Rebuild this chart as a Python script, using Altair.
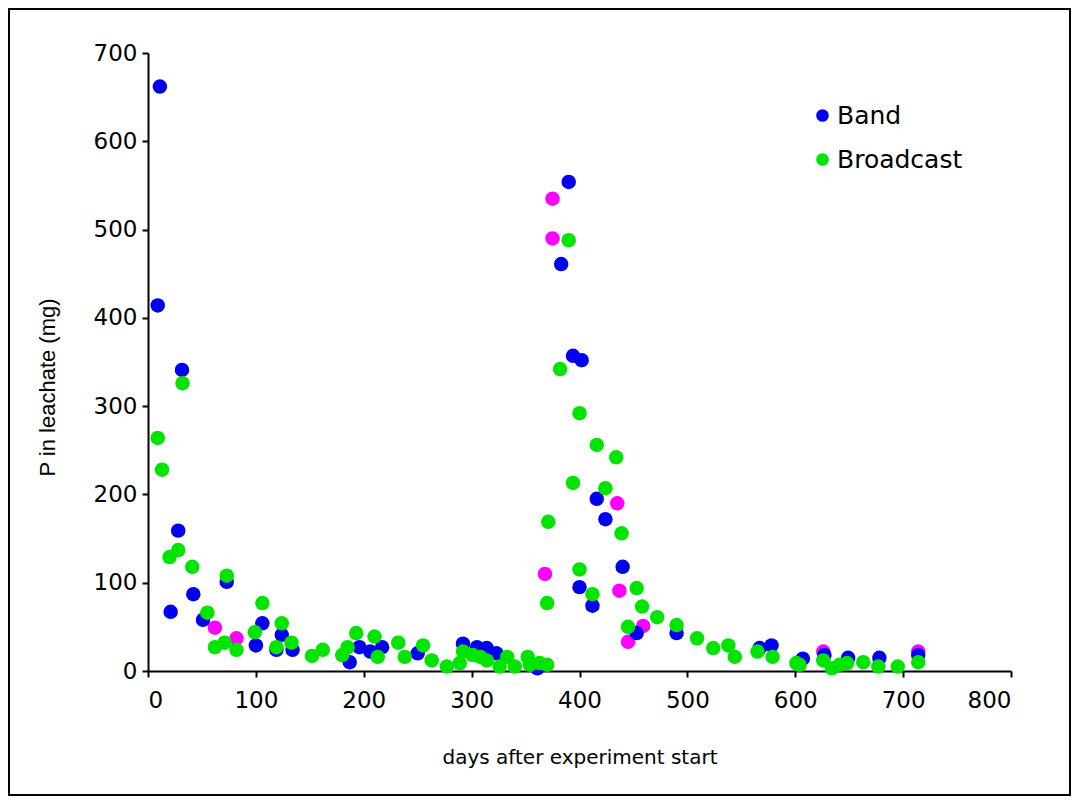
import altair as alt
import pandas as pd

band_day = [11, 9, 31.5, 28, 21, 42, 73, 51, 106, 100, 124, 119, 134, 187, 196, 206, 217,
            250, 292, 305, 314, 323, 361, 390, 383, 394, 402, 416, 424, 440, 400, 412, 453,
            490, 567, 578, 607, 627, 649, 678, 714]
band_p = [662, 414, 341, 159, 67, 87, 101, 58, 54, 29, 41, 24, 24, 10, 27, 22, 27,
          20, 31, 27, 26, 20, 3, 554, 461, 357, 352, 195, 172, 118, 95, 74, 43,
          43, 26, 29, 14, 18, 15, 15, 18]

broad_day = [9, 13, 32, 20, 28, 41, 73, 55, 62, 71, 82, 106, 99, 124, 119, 133, 152, 162,
             180, 185, 193, 210, 213, 232, 238, 255, 263, 277, 292, 289, 301, 308, 314,
             326, 333, 340, 352, 354, 363, 370, 370, 371, 382, 390, 400, 394, 416, 434,
             424, 439, 400, 412, 453, 458, 445, 472, 490, 509, 524, 538, 544, 565, 579,
             601, 604, 626, 634, 641, 648, 663, 677, 695, 714]
broad_p = [264, 228, 326, 129, 137, 118, 108, 66, 27, 32, 24, 77, 44, 54, 27, 32, 17, 24,
           18, 27, 43, 39, 16, 32, 16, 29, 12, 5, 22, 9, 18, 16, 12,
           5, 16, 5, 16, 7, 9, 7, 77, 169, 342, 488, 292, 213, 256, 242,
           207, 156, 115, 87, 94, 73, 50, 61, 52, 37, 26, 29, 16, 22, 16,
           9, 7, 12, 3, 7, 9, 10, 5, 5, 10]

other_day = [62, 82, 368, 375, 375, 435, 437, 445, 459, 626, 714]
other_p = [49, 37, 110, 535, 490, 190, 91, 33, 51, 22, 22]

series = ["Band", "Broadcast", "Series3"]
colors = ["#0000f0", "#00e400", "#ff00ff"]
zorder = {"Series3": 0, "Band": 1, "Broadcast": 2}

rows = []
for name, days, vals in [("Series3", other_day, other_p), ("Band", band_day, band_p),
                         ("Broadcast", broad_day, broad_p)]:
    for d, v in zip(days, vals):
        rows.append({"day": d, "P": v, "series": name, "z": zorder[name]})
df = pd.DataFrame(rows)

font = "DejaVu Sans"

points = alt.Chart(df).mark_point(filled=True, shape="circle", size=210, opacity=1).encode(
    x=alt.X("day:Q", scale=alt.Scale(domain=[0, 800], nice=False),
            axis=alt.Axis(values=list(range(0, 801, 100)), title="days after experiment start",
                          grid=False, tickSize=6, labelPadding=12, labelFontSize=23,
                          labelFont=font, labelColor="#000", titleFont=font, titleFontSize=20,
                          titleFontWeight="normal", titleColor="#000", titleY=86,
                          titleBaseline="middle", domainColor="#000", tickColor="#000",
                          domainWidth=2, tickWidth=2)),
    y=alt.Y("P:Q", scale=alt.Scale(domain=[0, 700], nice=False),
            axis=alt.Axis(values=list(range(0, 701, 100)), title="P in leachate (mg)",
                          grid=False, tickSize=6, labelPadding=5, labelFontSize=23,
                          labelFont=font, labelColor="#000", titleFont="Liberation Sans",
                          titleFontSize=22, titleFontWeight="normal", titleColor="#000",
                          titleX=-101, titleY=334, titleAngle=270, titleBaseline="middle",
                          titleAlign="center", domainColor="#000", tickColor="#000",
                          domainWidth=2, tickWidth=2)),
    color=alt.Color("series:N", scale=alt.Scale(domain=series, range=colors),
                    legend=alt.Legend(values=["Band", "Broadcast"], title=None, orient="none",
                                      legendX=662, legendY=50, symbolType="circle",
                                      symbolSize=160, labelFont=font, labelFontSize=25,
                                      labelColor="#000", rowPadding=18, labelOffset=2,
                                      padding=0)),
    order=alt.Order("z:Q"),
)

frame = alt.Chart(pd.DataFrame({"a": [0]})).mark_rect(
    fill=None, stroke="#000", strokeWidth=2, clip=False
).encode(x=alt.value(-139), x2=alt.value(922), y=alt.value(-44), y2=alt.value(742))

chart = alt.layer(frame, points).properties(
    width=863, height=618,
    autosize=alt.AutoSizeParams(type="none"),
    padding={"left": 140, "top": 45, "right": 60, "bottom": 125},
    background="white",
).configure_view(stroke=None)

chart.save("out.html", embed_options={"renderer": "svg", "actions": False})
